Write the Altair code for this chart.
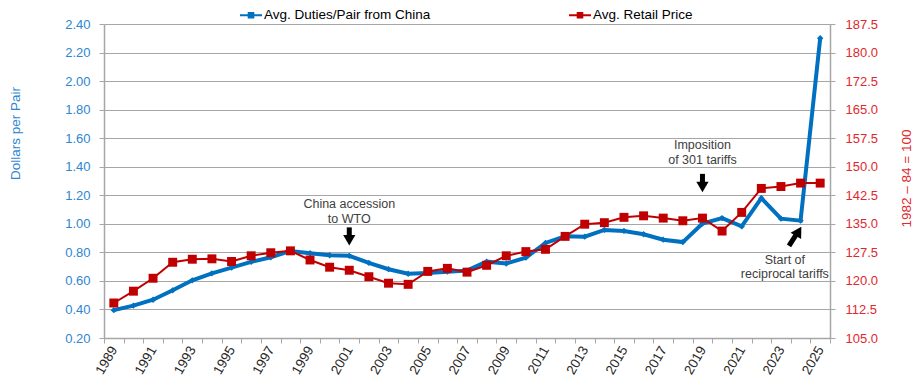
import altair as alt
import pandas as pd

years = list(range(1989, 2026))
duties = [0.395, 0.427, 0.468, 0.534, 0.604, 0.653, 0.693, 0.733, 0.766, 0.810,
          0.794, 0.780, 0.776, 0.726, 0.682, 0.650, 0.656, 0.665, 0.672, 0.735,
          0.722, 0.763, 0.866, 0.913, 0.910, 0.957, 0.950, 0.927, 0.889, 0.872,
          1.002, 1.040, 0.982, 1.180, 1.036, 1.022, 2.300]
retail = [114.2, 117.3, 120.7, 124.9, 125.7, 125.8, 125.1, 126.6, 127.4, 127.9,
          125.5, 123.6, 122.8, 121.1, 119.4, 119.1, 122.5, 123.3, 122.3, 124.1,
          126.6, 127.7, 128.3, 131.7, 134.9, 135.3, 136.7, 137.1, 136.5, 135.8,
          136.5, 133.1, 138.0, 144.3, 144.8, 145.7, 145.7]

series_names = ["Avg. Duties/Pair from China", "Avg. Retail Price"]
series_colors = ["#0070C0", "#C00000"]

left_ticks = [0.2, 0.4, 0.6, 0.8, 1.0, 1.2, 1.4, 1.6, 1.8, 2.0, 2.2, 2.4]
right_ticks = [105.0, 112.5, 120.0, 127.5, 135.0, 142.5, 150.0, 157.5, 165.0, 172.5, 180.0, 187.5]
label_years = list(range(1989, 2026, 2))
boundary_years = [y - 0.5 for y in years] + [2025.5]

note_text = ["China accession", "to WTO", "Imposition", "of 301 tariffs", "Start of", "reciprocal tariffs"]
note_x = [2001, 2001, 2019, 2019, 2023.2, 2023.2]
note_y = [1.14, 1.035, 1.55, 1.445, 0.745, 0.645]

arrow_x = [2001, 2019, 2023.41]
arrow_x2 = [2001, 2019, 2023.80]
arrow_y = [0.975, 1.35, 0.845]
arrow_y2 = [0.905, 1.28, 0.93]
head_x = [2001, 2019, 2023.9]
head_y = [0.885, 1.258, 0.948]
head_angle = [180, 180, 31]

df = pd.DataFrame({"year": years, "duties": duties, "retail": retail})
notes = pd.DataFrame({"text": note_text, "x": note_x, "y": note_y})
arrows = pd.DataFrame({"x": arrow_x, "x2": arrow_x2, "y": arrow_y, "y2": arrow_y2})
heads = pd.DataFrame({"x": head_x, "y": head_y, "a": head_angle})

GRAY = "#A6A6A6"
BLUE_TXT = "#2E86D1"
RED_TXT = "#E0282E"
FONT = "Liberation Sans"

xscale = alt.Scale(domain=[1988.5, 2025.5], nice=False, zero=False)
lscale = alt.Scale(domain=[0.2, 2.4], nice=False, zero=False)
rscale = alt.Scale(domain=[105, 187.5], nice=False, zero=False)
cscale = alt.Scale(domain=series_names, range=series_colors)

xaxis = alt.Axis(
    values=boundary_years + label_years,
    labelExpr="datum.value % 1 == 0 ? format(datum.value, 'd') : ''",
    tickOpacity={"condition": {"test": "datum.value % 1 == 0", "value": 0}, "value": 1},
    labelAngle=-60, labelOverlap=False, labelFlush=False, labelBound=False,
    grid=False, domainColor=GRAY, domainWidth=1.5, tickColor=GRAY, tickSize=5,
    labelFontSize=13.5, labelColor="#262626", labelPadding=4, title=None,
)
laxis = alt.Axis(
    values=left_ticks, format=".2f", labelColor=BLUE_TXT, labelFontSize=13,
    labelPadding=9, tickColor=GRAY, tickSize=5, domainColor=GRAY, domainWidth=1.5,
    grid=True, gridColor=GRAY, gridWidth=1.2, labelOverlap=False,
    title="Dollars per Pair", titleColor=BLUE_TXT, titleFontSize=13.5,
    titleFontWeight="normal", titleAngle=270, titleX=-89, titleY=109,
    titleAlign="center", titleBaseline="middle",
)
raxis = alt.Axis(
    values=right_ticks, format=".1f", labelColor=RED_TXT, labelFontSize=13,
    labelPadding=10, tickColor=GRAY, tickSize=5, domainColor=GRAY, domainWidth=1.5,
    grid=False, orient="right", labelOverlap=False,
    title="1982 \u2013 84 = 100", titleColor=RED_TXT, titleFontSize=13.5,
    titleFontWeight="normal", titleAngle=270, titleX=76, titleY=154,
    titleAlign="center", titleBaseline="middle",
)

legend = alt.Legend(
    orient="none", legendX=136, legendY=-20, direction="horizontal", columns=2,
    columnPadding=138, title=None, labelFontSize=13.5, labelColor="#000000",
    labelFont=FONT, labelOffset=2, labelLimit=400,
    symbolType="M-1,-0.09H1V0.09H-1Z M-0.3,-0.3H0.3V0.3H-0.3Z",
    symbolSize=484, symbolStrokeWidth=0,
)

base = alt.Chart(df)
X = alt.X("year:Q", scale=xscale, axis=xaxis)
blue_base = base.transform_calculate(series="'" + series_names[0] + "'")
red_base = base.transform_calculate(series="'" + series_names[1] + "'")
COLOR = alt.Color("series:N", scale=cscale, legend=legend)

blue_line = blue_base.mark_line(strokeWidth=4).encode(
    x=X, y=alt.Y("duties:Q", scale=lscale, axis=laxis), color=COLOR,
)
blue_pts = blue_base.mark_point(filled=True, shape="diamond", size=40, opacity=1).encode(
    x=X, y=alt.Y("duties:Q", scale=lscale, axis=laxis), color=COLOR,
)
note_layer = alt.Chart(notes).mark_text(fontSize=12.5, color="#404040", font=FONT).encode(
    x=alt.X("x:Q", scale=xscale, axis=xaxis),
    y=alt.Y("y:Q", scale=lscale, axis=laxis), text="text:N"
)
arrow_layer = alt.Chart(arrows).mark_rule(strokeWidth=5, color="black").encode(
    x=alt.X("x:Q", scale=xscale, axis=xaxis), x2="x2:Q",
    y=alt.Y("y:Q", scale=lscale, axis=laxis), y2="y2:Q",
)
head_layer = alt.Chart(heads).mark_point(
    filled=True, shape="triangle-up", size=150, color="black", opacity=1
).encode(
    x=alt.X("x:Q", scale=xscale, axis=xaxis),
    y=alt.Y("y:Q", scale=lscale, axis=laxis),
    angle=alt.Angle("a:Q", scale=None),
)

left = alt.layer(blue_line, blue_pts, note_layer, arrow_layer, head_layer)

red_line = red_base.mark_line(strokeWidth=2).encode(
    x=X, y=alt.Y("retail:Q", scale=rscale, axis=raxis), color=COLOR,
)
red_pts = red_base.mark_point(filled=True, shape="square", size=80, opacity=1).encode(
    x=X, y=alt.Y("retail:Q", scale=rscale, axis=raxis), color=COLOR,
)
right = alt.layer(red_line, red_pts)

chart = alt.layer(left, right).resolve_scale(y="independent").properties(
    width=726, height=314,
    autosize=alt.AutoSizeParams(type="none"),
    padding={"left": 104, "top": 24, "right": 93, "bottom": 48},
).configure(font=FONT, background="white").configure_view(stroke=None)

chart.save("out.html", embed_options={"renderer": "svg", "actions": False})
